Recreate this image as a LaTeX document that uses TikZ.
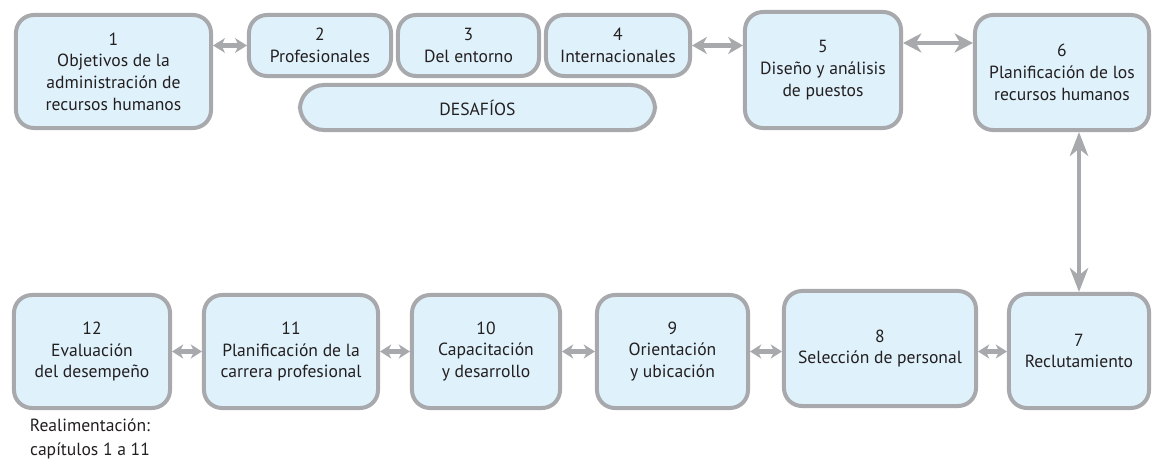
\documentclass[tikz,border=0pt]{standalone}
\usepackage{fontspec}
\setmainfont{PT Sans}
\usepackage{xcolor}
\usepackage{tikz}
\usetikzlibrary{calc, positioning, arrows.meta}

\definecolor{boxfill}{HTML}{DFF1FB}
\definecolor{boxline}{HTML}{A7A9AC}
\definecolor{boxtext}{HTML}{231F20}

\begin{document}
\begin{tikzpicture}[x=0.025cm,y=-0.025cm,
                    main node/.style={rectangle,rounded corners=0.45cm,fill=boxfill,draw=boxline,line width=0.1cm,
                                      text=boxtext,align=center,inner sep=2pt,
                                      font=\fontsize{12.5}{15.4}\selectfont},
                    link/.style 2 args={draw=boxline,line width=0.11cm,
                                 {Stealth[length=#1,width=#2,inset=0.3*#1]}-{Stealth[length=#1,width=#2,inset=0.3*#1]}}]
\useasboundingbox (0,0) rectangle (1152,473);

% upper row
\node[main node,minimum width=4.875cm,minimum height=2.825cm] (Box1) at (113.5,71.5) {1\\Objetivos de la\\administración de\\recursos humanos};
\node[main node,minimum width=3.55cm,minimum height=1.525cm] (Box2) at (320,45.5) {2\\Profesionales};
\node[main node,minimum width=3.525cm,minimum height=1.525cm] (Box3) at (468.5,45.5) {3\\Del entorno};
\node[main node,minimum width=3.6cm,minimum height=1.525cm] (Box4) at (618,45.5) {4\\Internacionales};
\node[main node,rounded corners=0.6cm,minimum width=8.875cm,minimum height=1.125cm] (Desafios) at (477.5,107.5) {DESAFÍOS};
\node[main node,minimum width=3.9cm,minimum height=2.9cm] (Box5) at (823,70) {5\\Diseño y análisis\\de puestos};
\node[main node,minimum width=4.35cm,minimum height=2.875cm] (Box6) at (1062,72.5) {6\\Planificación de los\\recursos humanos};

% lower row
\node[main node,minimum width=3.5cm,minimum height=2.85cm] (Box7) at (1079,351) {7\\Reclutamiento};
\node[main node,minimum width=4.8cm,minimum height=2.875cm] (Box8) at (880,348.5) {8\\Selección de personal};
\node[main node,minimum width=3.775cm,minimum height=2.825cm] (Box9) at (672.5,351.5) {9\\Orientación\\y ubicación};
\node[main node,minimum width=3.7cm,minimum height=2.825cm] (Box10) at (486,351.5) {10\\Capacitación\\y desarrollo};
\node[main node,minimum width=4.35cm,minimum height=2.825cm] (Box11) at (291,351.5) {11\\Planificación de la\\carrera profesional};
\node[main node,minimum width=3.9cm,minimum height=2.825cm] (Box12) at (92,351.5) {12\\Evaluación\\del desempeño};

\node[text=boxtext,align=center,font=\fontsize{12.5}{16.5}\selectfont] (Feedback) at (90,439) {Realimentación:\\capítulos 1 a 11};

\coordinate (Top56) at (0,43);

\draw[link={8.5pt}{10.5pt}] (Box2.west -| Box1.east) -- (Box2.west);
\draw[link={10.5pt}{12pt}] (Box4.east) -- (Box4.east -| Box5.west);
\draw[link={13pt}{13.5pt}] (Top56 -| Box5.east) -- (Top56 -| Box6.west);
\draw[link={17pt}{13pt}] (Box7.north |- Box6.south) -- (Box7.north);

\foreach \a/\b in {7/8,8/9,9/10,10/11,11/12}
  {\draw[link={8pt}{10pt}] (Box\b.east |- Box9.west) -- (Box\a.west |- Box9.west);}

\end{tikzpicture}
\end{document}
